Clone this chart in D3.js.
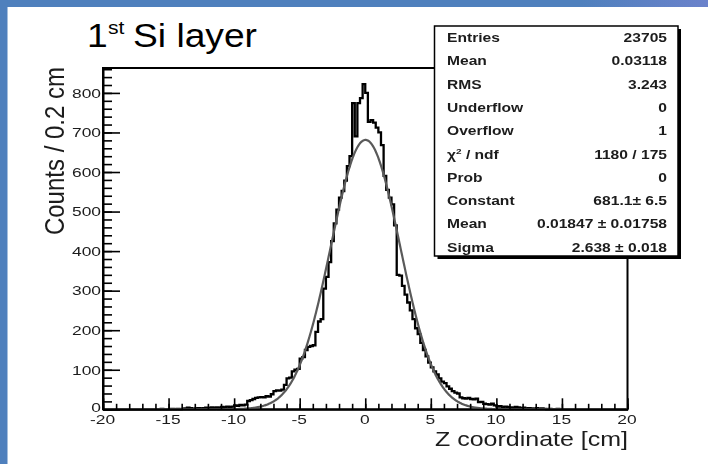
<!DOCTYPE html>
<html>
<head>
<meta charset="utf-8">
<script src="https://cdn.jsdelivr.net/npm/d3@7"></script>
<style>
  html, body { margin: 0; padding: 0; background: #fff; }
  svg { display: block; }
</style>
</head>
<body>
<svg id="chart" width="708" height="464"></svg>
<script>
// Z coordinate of hits in the first silicon layer, 0.2 cm bins from -20 to 20 cm
const zMin = -20, zMax = 20, binWidth = 0.2;
const counts = [
  0,0,0,0,0,0,0,0,0,0, 0,0,0,0,0,0,0,0,0,0,            // -20 .. -16
  0,0,1,0,0,0,1,0,1,0,                                 // -16 .. -14
  1,2,4,3,1,2,3,2,3,4,                                 // -14 .. -12
  3,5,4,5,4,6,5,7,6,7,                                 // -12 .. -10
  10,9,11,10,12, 21,23,26,29,30,                       // -10 .. -8
  31,30,33,32,38, 46,48,47,50,62,                      // -8 .. -6
  78,80,96,100,102, 128,132,150,158,160,               // -6 .. -4
  162,196,222,228,305, 335,372,425,470,505,            // -4 .. -2
  535,552,578,615,640, 774,690,774,787,822,            // -2 .. 0
  800,727,731,725,712, 700,668,590,555,535,            // 0 .. 2
  518,465,340,338,312, 290,270,250,228,205,            // 2 .. 4
  190,168,150,134,118, 106,96,88,78,70,                // 4 .. 6
  66,58,52,46,42, 40,30,28,27,29,                      // 6 .. 8
  26,25,27,18,19, 14,13,12,14,10,                      // 8 .. 10
  7,8,5,7,6,5,4,6,5,3,                                 // 10 .. 12
  4,2,3,2,1,3,1,2,1,0,                                 // 12 .. 14
  1,0,0,1,0,0,0,0,0,0,                                 // 14 .. 16
  0,0,0,0,0,0,0,0,0,0, 0,0,0,0,0,0,0,0,0,0             // 16 .. 20
];

// Gaussian fit parameters (as printed in the statistics box)
const fitConstant = 681.1, fitMean = 0.01847, fitSigma = 2.638;

const xMajorTicks = [-20, -15, -10, -5, 0, 5, 10, 15, 20];
const xMinorStep = 1;
const yMajorTicks = [0, 100, 200, 300, 400, 500, 600, 700, 800];
const yMinorStep = 20;
const yMax = 863;

const statLabels = ["Entries", "Mean", "RMS", "Underflow", "Overflow", "chi2ndf", "Prob", "Constant", "Mean", "Sigma"];
const statValues = ["23705", "0.03118", "3.243", "0", "1", "1180 / 175", "0", "681.1\u00b1 6.5", "0.01847 \u00b1 0.01758", "2.638 \u00b1 0.018"];

const titleMain = "Si layer";
const titleNum = "1", titleSup = "st";
const xTitle = "Z coordinate [cm]";
const yTitle = "Counts / 0.2 cm";

// ---- layout ----
const W = 708, H = 464;
const frame = { left: 103, right: 627.5, top: 68, bottom: 409.3 };
const font = "'Liberation Sans', Arial, Helvetica, sans-serif";
const ink = "#1c1c1c";

const svg = d3.select("#chart");

const defs = svg.append("defs");
const grad = defs.append("linearGradient").attr("id", "topBand").attr("x1", 0).attr("x2", 1);
grad.append("stop").attr("offset", "0%").attr("stop-color", "#4f80bd");
grad.append("stop").attr("offset", "82%").attr("stop-color", "#4f80bd");
grad.append("stop").attr("offset", "100%").attr("stop-color", "#6b82cb");
defs.append("filter").attr("id", "soft")
  .append("feGaussianBlur").attr("stdDeviation", 0.5);

svg.append("rect").attr("width", W).attr("height", H).attr("fill", "#fff");
// slide border bands
svg.append("rect").attr("x", 0).attr("y", 0).attr("width", W).attr("height", 7).attr("fill", "url(#topBand)");
svg.append("rect").attr("x", 0).attr("y", 0).attr("width", 7.5).attr("height", H).attr("fill", "#4f80bd");

// title
const tt = svg.append("g").attr("fill", "#000").style("font-family", font);
tt.append("text").attr("transform", "translate(87,47) scale(1.11,1)")
  .style("font-size", "33.5px").text(titleNum);
tt.append("text").attr("transform", "translate(108,34) scale(1.11,1)")
  .style("font-size", "19px").text(titleSup);
tt.append("text").attr("transform", "translate(133,47) scale(1.11,1)")
  .style("font-size", "33.5px").text(titleMain);

// ---- plot ----
const plot = svg.append("g").attr("filter", "url(#soft)");

const x = d3.scaleLinear().domain([zMin, zMax]).range([frame.left, frame.right]);
const y = d3.scaleLinear().domain([0, yMax]).range([frame.bottom, frame.top]);

// frame
plot.append("rect")
  .attr("x", frame.left).attr("y", frame.top)
  .attr("width", frame.right - frame.left).attr("height", frame.bottom - frame.top)
  .attr("fill", "none").attr("stroke", "#000").attr("stroke-width", 2);

// histogram as a step outline
const stepPts = [];
counts.forEach((c, i) => {
  const a = zMin + i * binWidth, b = a + binWidth;
  stepPts.push([a, c], [b, c]);
});
const line = d3.line().x(d => x(d[0])).y(d => y(d[1]));
plot.append("path").datum(stepPts)
  .attr("d", line).attr("fill", "none")
  .attr("stroke", "#000").attr("stroke-width", 2.3).attr("stroke-linejoin", "miter");

// Gaussian fit curve
const fitPts = d3.range(zMin, zMax + 1e-9, 0.05).map(z =>
  [z, fitConstant * Math.exp(-0.5 * Math.pow((z - fitMean) / fitSigma, 2))]);
plot.append("path").datum(fitPts)
  .attr("d", line).attr("fill", "none")
  .attr("stroke", "#5a5a5a").attr("stroke-width", 2.2);

// x axis: minor and major ticks drawn inside the frame
const xMinor = d3.range(zMin, zMax + 1e-9, xMinorStep);
plot.append("g").attr("transform", `translate(0,${frame.bottom})`)
  .call(d3.axisBottom(x).tickValues(xMinor).tickSize(-5.5).tickSizeOuter(0).tickFormat(""))
  .call(g => g.select(".domain").remove())
  .call(g => g.selectAll("line").attr("stroke", "#000").attr("stroke-width", 1.6));
const xAx = plot.append("g").attr("transform", `translate(0,${frame.bottom})`)
  .call(d3.axisBottom(x).tickValues(xMajorTicks).tickSize(-11).tickSizeOuter(0).tickFormat(d => String(d)))
  .call(g => g.select(".domain").attr("stroke", "#000").attr("stroke-width", 2))
  .call(g => g.selectAll("line").attr("stroke", "#000").attr("stroke-width", 1.6));
xAx.selectAll("text")
  .attr("y", null).attr("dy", null)
  .attr("transform", "translate(-1,15) scale(1.45,1)")
  .attr("fill", ink).style("font-family", font).style("font-size", "12px");

// y axis
const yMinor = d3.range(0, yMax, yMinorStep);
plot.append("g").attr("transform", `translate(${frame.left},0)`)
  .call(d3.axisLeft(y).tickValues(yMinor).tickSize(-9).tickSizeOuter(0).tickFormat(""))
  .call(g => g.select(".domain").remove())
  .call(g => g.selectAll("line").attr("stroke", "#000").attr("stroke-width", 1.6));
const yAx = plot.append("g").attr("transform", `translate(${frame.left},0)`)
  .call(d3.axisLeft(y).tickValues(yMajorTicks).tickSize(-17).tickSizeOuter(0).tickFormat(d => String(d)))
  .call(g => g.select(".domain").attr("stroke", "#000").attr("stroke-width", 2))
  .call(g => g.selectAll("line").attr("stroke", "#000").attr("stroke-width", 1.6));
yAx.selectAll("text")
  .attr("x", null).attr("dy", "0.36em")
  .attr("transform", d => d === 0 ? "translate(-2,-2) scale(1.45,1)" : "translate(-2,0) scale(1.45,1)")
  .attr("text-anchor", "end")
  .attr("fill", ink).style("font-family", font).style("font-size", "12px");

// axis titles
plot.append("text")
  .attr("transform", `translate(${frame.right + 0.5},446) scale(1.19,1)`)
  .attr("text-anchor", "end").attr("fill", ink)
  .style("font-family", font).style("font-size", "21px").text(xTitle);
plot.append("text")
  .attr("transform", `translate(64,${frame.top - 1}) rotate(-90) scale(1,1.15)`)
  .attr("text-anchor", "end").attr("fill", ink)
  .style("font-family", font).style("font-size", "24px").text(yTitle);

// statistics box
const box = { x: 434.5, y: 26, w: 243.5, h: 230 };
plot.append("rect").attr("x", box.x + 3).attr("y", box.y + 3)
  .attr("width", box.w).attr("height", box.h).attr("fill", "#000");
plot.append("rect").attr("x", box.x).attr("y", box.y)
  .attr("width", box.w).attr("height", box.h)
  .attr("fill", "#fff").attr("stroke", "#000").attr("stroke-width", 1.5);

const rowY0 = 37.5, rowStep = 23.3;
const st = plot.append("g").attr("fill", ink)
  .style("font-family", font).style("font-size", "12.5px").style("font-weight", "bold");
statLabels.forEach((lab, i) => {
  const by = rowY0 + i * rowStep + 4.5;
  const t = st.append("text").attr("transform", `translate(447,${by}) scale(1.25,1)`);
  if (lab === "chi2ndf") {
    t.append("tspan").text("\u03c7");
    t.append("tspan").attr("dy", -5).style("font-size", "8px").text("2");
    t.append("tspan").attr("dy", 5).text(" / ndf");
  } else {
    t.text(lab);
  }
  st.append("text").attr("transform", `translate(667,${by}) scale(1.25,1)`)
    .attr("text-anchor", "end").text(statValues[i]);
});
</script>
</body>
</html>
